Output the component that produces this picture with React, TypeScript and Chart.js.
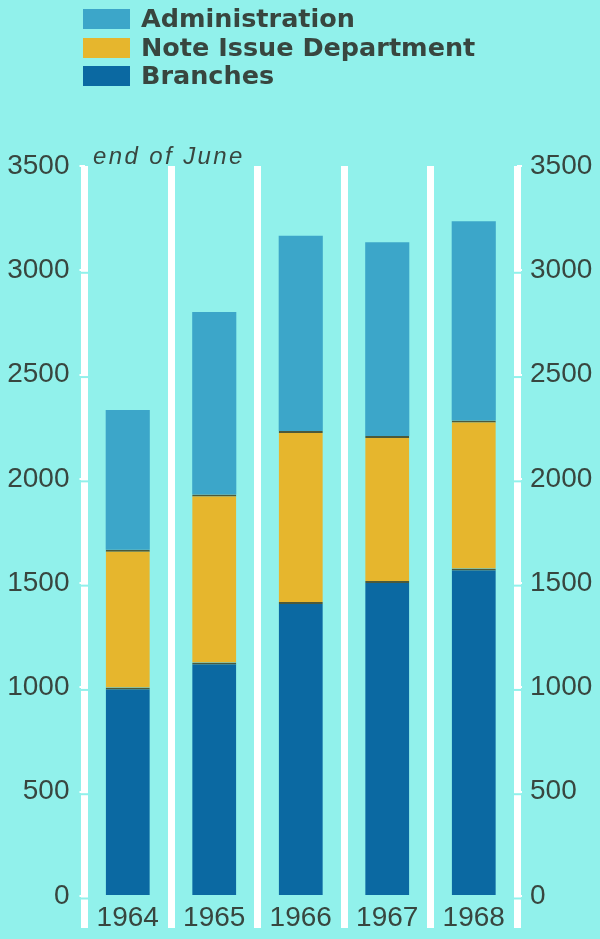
import React, { useEffect, useRef } from 'react';
import Chart from 'chart.js/auto';

// staff numbers at end of June
const years = ['1964', '1965', '1966', '1967', '1968'];
const branches = [1000, 1120, 1410, 1510, 1570];
const noteIssue = [660, 805, 820, 695, 710];
const administration = [670, 875, 935, 930, 955];
const yTicks = [0, 500, 1000, 1500, 2000, 2500, 3000, 3500];

const seriesNames = ['Branches', 'Note Issue Department', 'Administration'];
const seriesColors = ['#0b69a2', '#e6b62d', '#3ca6c9'];

const BG = '#91f1eb';
const TEXT = '#38463f';

// small gaps in the outer white rules just under each tick
const notchPlugin = {
  id: 'notches',
  afterDraw(chart: any) {
    const { ctx, chartArea, scales } = chart;
    ctx.save();
    ctx.fillStyle = BG;
    yTicks.slice(0, -1).forEach((v) => {
      const y = scales.y.getPixelForValue(v);
      [chartArea.left, chartArea.right].forEach((x) => {
        ctx.fillRect(x - 5, y + 1.5, 10, 2);
      });
    });
    ctx.restore();
  },
};

const StaffChart = () => {
  const chartRef = useRef<HTMLCanvasElement | null>(null);

  useEffect(() => {
    if (!chartRef.current) return;
    const data = [branches, noteIssue, administration];
    const plain = (v: any) => String(v);
    const myChart = new Chart(chartRef.current, {
      type: 'bar',
      data: {
        labels: years,
        datasets: data.map((d, i) => ({
          label: seriesNames[i],
          data: d,
          backgroundColor: seriesColors[i],
          borderColor: '#4c5a3a',
          borderWidth: i < 2 ? { top: 2, left: 0, right: 0, bottom: 0 } : 0,
          borderSkipped: false,
          categoryPercentage: 1,
          barPercentage: 0.51,
        })),
      },
      options: {
        responsive: false,
        animation: false,
        layout: { padding: { top: 166, bottom: 0, left: 0, right: 0 } },
        plugins: {
          legend: { display: false },
          tooltip: { enabled: false },
        },
        scales: {
          x: {
            stacked: true,
            offset: true,
            grid: {
              offset: true,
              color: '#ffffff',
              lineWidth: 7,
              tickLength: 32,
            },
            border: { display: false },
            ticks: {
              color: TEXT,
              font: { family: 'Liberation Sans', size: 28 },
              padding: -27,
            },
            afterFit: (scale: any) => {
              scale.height = 43;
            },
          },
          y: {
            stacked: true,
            position: 'left',
            min: 0,
            max: 3500,
            afterBuildTicks: (scale: any) => {
              scale.ticks = yTicks.map((v) => ({ value: v }));
            },
            grid: {
              drawOnChartArea: false,
              color: '#ffffff',
              lineWidth: 2,
              tickLength: 5,
            },
            border: { display: false },
            ticks: {
              color: TEXT,
              font: { family: 'Liberation Sans', size: 28 },
              padding: 10,
              callback: plain,
            },
            afterFit: (scale: any) => {
              scale.width = 84.5;
            },
          },
          y2: {
            position: 'right',
            min: 0,
            max: 3500,
            afterBuildTicks: (scale: any) => {
              scale.ticks = yTicks.map((v) => ({ value: v }));
            },
            grid: {
              drawOnChartArea: false,
              color: '#ffffff',
              lineWidth: 2,
              tickLength: 5,
            },
            border: { display: false },
            ticks: {
              color: TEXT,
              font: { family: 'Liberation Sans', size: 28 },
              padding: 8,
              callback: plain,
            },
            afterFit: (scale: any) => {
              scale.width = 83;
            },
          },
        },
      },
      plugins: [notchPlugin],
    });

    return () => {
      myChart.destroy();
    };
  }, []);

  return <canvas ref={chartRef} width={600} height={939} style={{ position: 'absolute', left: 0, top: 0 }} />;
};

export default function App() {
  const order = [2, 1, 0];
  return (
    <div style={{ position: 'absolute', left: 0, top: 0, width: 600, height: 939, background: BG, overflow: 'hidden' }}>
      <StaffChart />
      {order.map((i, row) => (
        <div key={seriesNames[i]}>
          <div
            style={{
              position: 'absolute',
              left: 83,
              top: 9 + row * 28.5,
              width: 47,
              height: 20,
              background: seriesColors[i],
            }}
          />
          <div
            style={{
              position: 'absolute',
              left: 141,
              top: 3 + row * 28.5,
              fontFamily: 'DejaVu Sans',
              fontWeight: 'bold',
              fontSize: 25.5,
              lineHeight: '30px',
              color: TEXT,
              whiteSpace: 'nowrap',
            }}
          >
            {seriesNames[i]}
          </div>
        </div>
      ))}
      <div
        style={{
          position: 'absolute',
          left: 93,
          top: 142,
          fontFamily: 'Liberation Sans',
          fontStyle: 'italic',
          fontSize: 24,
          letterSpacing: 2.4,
          lineHeight: '28px',
          color: TEXT,
          whiteSpace: 'nowrap',
        }}
      >
        end of June
      </div>
    </div>
  );
}
